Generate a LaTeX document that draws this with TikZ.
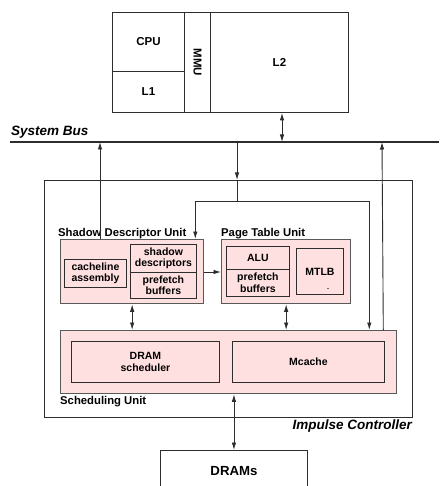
\documentclass[tikz,border=0pt]{standalone}
\usepackage{fontspec}
\setmainfont{Liberation Sans}
\usetikzlibrary{arrows.meta}

\newcommand{\topfont}{\fontsize{11.5}{13}\selectfont\bfseries}
\newcommand{\boxfont}{\fontsize{10.5}{11.5}\selectfont\bfseries}
\newcommand{\unitfont}{\fontsize{11.3}{13}\selectfont\bfseries}
\newcommand{\busfont}{\fontsize{13.5}{15}\selectfont\bfseries\itshape}
\definecolor{unitpink}{RGB}{255,224,224}
\definecolor{linegray}{RGB}{45,45,45}

\begin{document}
\begin{tikzpicture}[x=1pt,y=-1pt,
	blk/.style={draw=linegray,line width=0.9pt,anchor=north west,inner sep=0pt,align=center,font=\boxfont},
	unit/.style={blk,fill=unitpink,draw=black!65,line width=1.3pt},
	wire/.style={draw=linegray,line width=0.9pt},
	tip/.style={wire,-{Latex[length=7.5pt,width=4.5pt]}},
	both/.style={wire,{Latex[length=7.5pt,width=4.5pt]}-{Latex[length=7.5pt,width=4.5pt]}}]

		\useasboundingbox (0,0) rectangle (439,486);

		% Processor
		\node[blk,font=\topfont,minimum width=72pt,minimum height=59pt] (cpu) at (112,12) {CPU};
		\node[blk,font=\topfont,minimum width=72pt,minimum height=41pt] (lone) at (112,71) {L1};
		\node[blk,font=\topfont,minimum width=26pt,minimum height=100pt] (mmu) at (184,12) {\rotatebox{-90}{MMU}};
		\node[blk,font=\topfont,minimum width=138pt,minimum height=100pt] (ltwo) at (210,12) {L2};

		% System bus
		\coordinate (busw) at (10,142);
		\coordinate (buse) at (439,142);
		\draw[wire,line width=1.2pt] (busw) -- (buse);
		\node[anchor=base west,inner sep=0pt,font=\busfont] (bus) at (11,136) {System Bus};
		\foreach \n/\x in {bsdu/100, bmid/237, bltwo/282, bsch/382}
			\coordinate (\n) at (\x,142);

		% Impulse controller
		\node[blk,minimum width=368pt,minimum height=237pt] (ic) at (44,180) {};
		\node[anchor=base east,inner sep=0pt,font=\busfont] (iclabel) at (412,429) {Impulse Controller};

		% Shadow descriptor unit
		\node[unit,minimum width=143pt,minimum height=64pt] (sdu) at (60,239) {};
		\node[anchor=base west,inner sep=0pt,font=\unitfont] (sdulabel) at (58,236) {Shadow Descriptor Unit};
		\node[blk,minimum width=62pt,minimum height=28pt] (cla) at (64,259) {cacheline\\assembly};
		\node[blk,minimum width=66pt,minimum height=28pt] (sdesc) at (130,244) {shadow\\descriptors};
		\node[blk,minimum width=66pt,minimum height=26pt] (pbuf) at (130,272) {prefetch\\buffers};

		% Page table unit
		\node[unit,minimum width=129pt,minimum height=64pt] (ptu) at (221,239) {};
		\node[anchor=base west,inner sep=0pt,font=\unitfont] (ptulabel) at (221,236) {Page Table Unit};
		\node[blk,minimum width=63pt,minimum height=23pt] (alu) at (226,246) {ALU};
		\node[blk,minimum width=63pt,minimum height=27pt] (ptbuf) at (226,269) {prefetch\\buffers};
		\node[blk,minimum width=47pt,minimum height=46pt] (mtlb) at (296,248) {MTLB};
		\node[inner sep=0pt,font=\fontsize{6}{6}\selectfont\bfseries] (mtlbmark) at (328,290) {-};

		% Scheduling unit
		\node[unit,minimum width=336pt,minimum height=63pt] (sched) at (60,330) {};
		\node[anchor=base west,inner sep=0pt,font=\unitfont] (schedlabel) at (60,404) {Scheduling Unit};
		\node[blk,minimum width=148pt,minimum height=41pt] (dsched) at (71,341) {DRAM\\scheduler};
		\node[blk,minimum width=152pt,minimum height=41pt] (mcache) at (232,341) {Mcache};

		% Memory
		\node[blk,font=\fontsize{13.2}{15}\selectfont\bfseries,minimum width=147pt,minimum height=42pt] (drams) at (160,450) {DRAMs};

		% Connections
		\draw[both] (ltwo.south -| bltwo) -- (bltwo);
		\draw[tip] (sdu.north -| bsdu) -- (bsdu);
		\draw[tip] (bmid) -- (bmid |- ic.north);
		\coordinate (split) at (237,201);
		\draw[wire] (bmid |- ic.north) -- (split);
		\draw[tip] (split) -| ([xshift=-9pt]sdu.north east);
		\draw[tip] (split) -| ([xshift=-28pt]sched.north east);
		\draw[tip] ([xshift=-14pt]sched.north east) -- (bsch);
		\draw[tip] (pbuf.north -| sdu.east) -- (pbuf.north -| ptu.west);
		\draw[both] (sdu.south) -- (sdu.south |- sched.north);
		\draw[both] (ptu.south) -- (ptu.south |- sched.north);
		\draw[both] (drams.north |- sched.south) -- (drams.north);
	\end{tikzpicture}
\end{document}
